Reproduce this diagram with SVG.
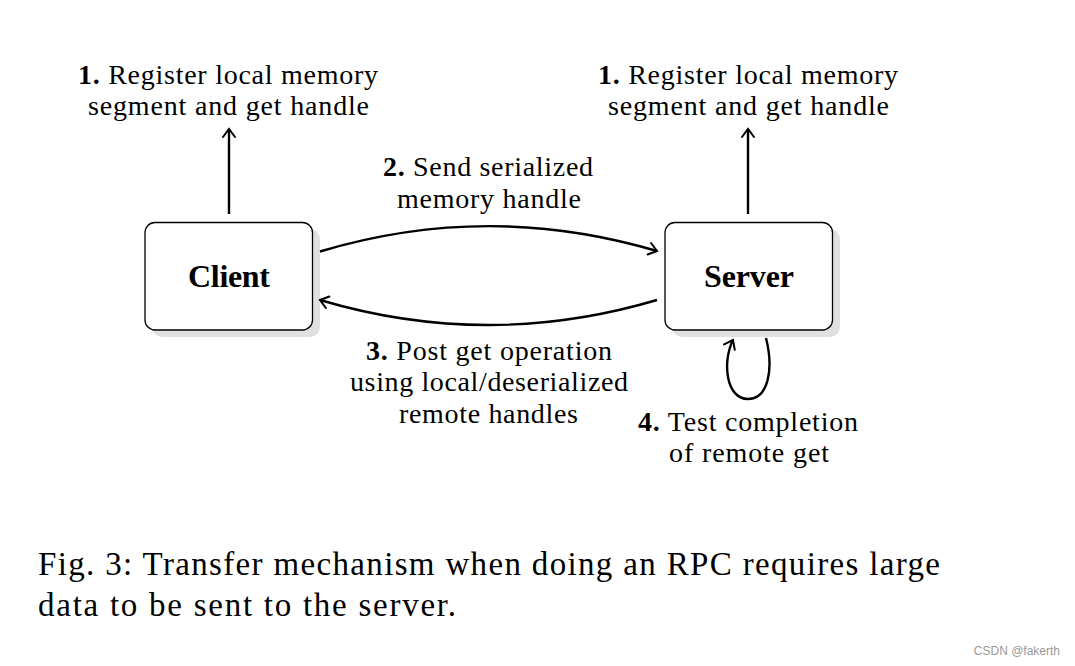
<svg xmlns="http://www.w3.org/2000/svg" width="1075" height="666" viewBox="0 0 1075 666">
<style>
.lbl{font-family:"Liberation Serif","Times New Roman",serif;font-size:28px;fill:#000;text-anchor:middle}
.b{font-weight:bold}
.node{fill:#fff;stroke:#000;stroke-width:1.3}
.shadow{fill:#e0e0e0}
.nt{font-family:"Liberation Serif","Times New Roman",serif;font-size:32px;font-weight:bold;text-anchor:middle}
.edge{fill:none;stroke:#000;stroke-width:2.4;marker-end:url(#arr)}
.cap{font-family:"Liberation Serif","Times New Roman",serif;font-size:33px;fill:#000}
</style>
<defs>
<marker id="arr" viewBox="-10 -8 12 16" markerWidth="12" markerHeight="16" refX="0" refY="0" orient="auto" markerUnits="userSpaceOnUse">
<path d="M-8,-6 Q-2,-1.5 0,0 Q-2,1.5 -8,6" fill="none" stroke="#000" stroke-width="2" stroke-linecap="round"/>
</marker>
</defs>
<rect width="1075" height="666" fill="#fff"/>
<g id="client">
<rect class="shadow" x="152" y="229" width="168" height="108" rx="10"/>
<rect class="node" x="145" y="222.5" width="167.5" height="107.5" rx="10"/>
<text class="nt" x="229" y="287" textLength="82" lengthAdjust="spacing">Client</text>
</g>
<g id="server">
<rect class="shadow" x="672" y="229" width="168" height="108" rx="10"/>
<rect class="node" x="665" y="222.5" width="167.5" height="107.5" rx="10"/>
<text class="nt" x="749" y="287" textLength="90" lengthAdjust="spacing">Server</text>
</g>
<g id="connectors">
<path class="edge" d="M229,214 L229,129"/>
<path class="edge" d="M748,214 L748,129"/>
<path class="edge" d="M320,251.5 Q488,201 657,251"/>
<path class="edge" d="M657,300 Q488,350 320,300"/>
<path class="edge" d="M766,338 C774,370 768,399 748,399 C726,399 722,362 733,340"/>
</g>
<g id="labels">
<text class="lbl" x="228" y="84" textLength="300" lengthAdjust="spacing"><tspan class="b">1.</tspan> Register local memory</text>
<text class="lbl" x="228.5" y="115" textLength="281" lengthAdjust="spacing">segment and get handle</text>
<text class="lbl" x="748" y="84" textLength="300" lengthAdjust="spacing"><tspan class="b">1.</tspan> Register local memory</text>
<text class="lbl" x="748.5" y="115" textLength="281" lengthAdjust="spacing">segment and get handle</text>
<text class="lbl" x="488" y="176" textLength="210" lengthAdjust="spacing"><tspan class="b">2.</tspan> Send serialized</text>
<text class="lbl" x="489" y="208" textLength="184" lengthAdjust="spacing">memory handle</text>
<text class="lbl" x="489" y="360" textLength="246" lengthAdjust="spacing"><tspan class="b">3.</tspan> Post get operation</text>
<text class="lbl" x="489" y="391" textLength="278" lengthAdjust="spacing">using local/deserialized</text>
<text class="lbl" x="488.5" y="423" textLength="179" lengthAdjust="spacing">remote handles</text>
<text class="lbl" x="748" y="431" textLength="220" lengthAdjust="spacing"><tspan class="b">4.</tspan> Test completion</text>
<text class="lbl" x="749" y="462" textLength="160" lengthAdjust="spacing">of remote get</text>
</g>
<g id="caption">
<text class="cap" x="38" y="575" textLength="902" lengthAdjust="spacing">Fig. 3: Transfer mechanism when doing an RPC requires large</text>
<text class="cap" x="38" y="616" textLength="418" lengthAdjust="spacing">data to be sent to the server.</text>
</g>
<text x="1060" y="655" font-family="Liberation Sans, Arial, sans-serif" font-size="12" fill="#999" text-anchor="end">CSDN @fakerth</text>
</svg>
